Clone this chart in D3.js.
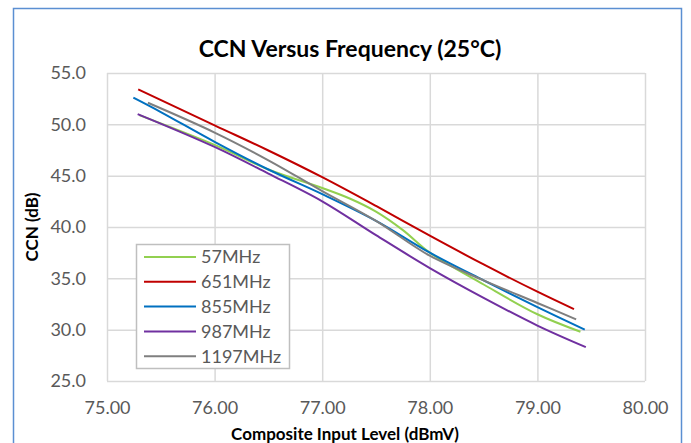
<!DOCTYPE html>
<html>
<head>
<meta charset="utf-8">
<script src="https://cdn.jsdelivr.net/npm/d3@7"></script>
<style>
  body { margin: 0; background: #fff; }
  text { font-family: Lato, "Open Sans", sans-serif; }
</style>
</head>
<body>
<div id="chart"></div>
<script>
// data
const seriesNames = ["57MHz", "651MHz", "855MHz", "987MHz", "1197MHz"];
const seriesColors = ["#92d050", "#c00000", "#0070c0", "#7030a0", "#7f7f7f"];

const x57 = [75.30, 76.00, 76.50, 77.00, 77.25, 77.50, 77.75, 78.00, 78.50, 79.00, 79.40];
const y57 = [50.9, 48.0, 45.6, 43.8, 42.8, 41.5, 39.7, 37.5, 34.4, 31.5, 29.8];

const x651 = [75.29, 76.00, 76.50, 77.00, 77.50, 78.00, 78.50, 79.00, 79.34];
const y651 = [53.4, 49.9, 47.45, 44.85, 42.05, 39.15, 36.35, 33.7, 32.0];

const x855 = [75.245, 75.50, 76.00, 76.50, 77.00, 77.50, 78.00, 78.50, 79.00, 79.44];
const y855 = [52.6, 51.2, 48.3, 45.6, 43.2, 40.6, 37.5, 34.8, 32.2, 30.0];

const x987 = [75.285, 76.00, 76.50, 77.00, 77.50, 78.00, 78.50, 79.00, 79.45];
const y987 = [51.0, 47.8, 45.2, 42.5, 39.2, 36.0, 33.1, 30.4, 28.3];

const x1197 = [75.38, 76.00, 76.50, 77.00, 77.50, 78.00, 78.50, 79.00, 79.36];
const y1197 = [52.1, 49.2, 46.5, 43.5, 40.6, 37.2, 34.8, 32.6, 31.0];

const xTicks = [75, 76, 77, 78, 79, 80];
const yTicks = [25, 30, 35, 40, 45, 50, 55];

const seriesX = [x57, x651, x855, x987, x1197];
const seriesY = [y57, y651, y855, y987, y1197];

const W = 691, H = 443;
const margin = { top: 73, left: 107, right: 46, bottom: 62 };
const width = W - margin.left - margin.right,
      height = H - margin.top - margin.bottom;

const svg = d3.select("#chart").append("svg")
  .attr("width", W)
  .attr("height", H);

// outer chart frame
svg.append("rect")
  .attr("x", 13.5).attr("y", 8.5)
  .attr("width", 668).attr("height", 460)
  .attr("fill", "#fff")
  .attr("stroke", "#5b8fd2")
  .attr("stroke-width", 1.5);

svg.append("text")
  .attr("x", 350).attr("y", 57)
  .attr("text-anchor", "middle")
  .style("font-size", "23px").style("font-weight", "bold")
  .attr("fill", "#000")
  .text("CCN Versus Frequency (25°C)");

const g = svg.append("g")
  .attr("transform", `translate(${margin.left},${margin.top})`);

const xScale = d3.scaleLinear().domain([75, 80]).range([0, width]);
const yScale = d3.scaleLinear().domain([25, 55]).range([height, 0]);

// gridlines
g.append("g")
  .call(d3.axisBottom(xScale).tickValues(xTicks).tickSize(-height).tickFormat(""))
  .attr("transform", `translate(0,${height})`)
  .call(a => a.select(".domain").remove())
  .selectAll("line").attr("stroke", "#d9d9d9").attr("stroke-width", 1.5);

g.append("g")
  .call(d3.axisLeft(yScale).tickValues(yTicks).tickSize(-width).tickFormat(""))
  .call(a => a.select(".domain").remove())
  .selectAll("line").attr("stroke", "#d9d9d9").attr("stroke-width", 1.5);

// tick labels
g.append("g")
  .attr("transform", `translate(0,${height})`)
  .call(d3.axisBottom(xScale).tickValues(xTicks).tickSize(0).tickPadding(20).tickFormat(d3.format(".2f")))
  .call(a => a.select(".domain").remove())
  .selectAll("text")
  .style("font-size", "18px").attr("fill", "#595959")
  .style("font-family", "Lato, sans-serif");

g.append("g")
  .call(d3.axisLeft(yScale).tickValues(yTicks).tickSize(0).tickPadding(21).tickFormat(d3.format(".1f")))
  .call(a => a.select(".domain").remove())
  .selectAll("text")
  .style("font-size", "18px").attr("fill", "#595959")
  .style("font-family", "Lato, sans-serif");

// axis titles
svg.append("text")
  .attr("x", 345).attr("y", 440)
  .attr("text-anchor", "middle")
  .style("font-size", "17px").style("font-weight", "bold")
  .text("Composite Input Level (dBmV)");

svg.append("text")
  .attr("transform", `translate(38,${margin.top + height / 2}) rotate(-90)`)
  .attr("text-anchor", "middle")
  .style("font-size", "17px").style("font-weight", "bold")
  .text("CCN (dB)");

// series lines
const line = d3.line()
  .x(d => xScale(d[0]))
  .y(d => yScale(d[1]))
  .curve(d3.curveCatmullRom);

seriesNames.forEach((name, i) => {
  const pts = seriesX[i].map((x, j) => [x, seriesY[i][j]]);
  g.append("path")
    .datum(pts)
    .attr("fill", "none")
    .attr("stroke", seriesColors[i])
    .attr("stroke-width", 2)
    .attr("d", line);
});

// legend
const legend = svg.append("g").attr("transform", "translate(136,244)");
legend.append("rect")
  .attr("x", 0.5).attr("y", 0.5)
  .attr("width", 153).attr("height", 124)
  .attr("fill", "#fff")
  .attr("stroke", "#bfbfbf")
  .attr("stroke-width", 1.5);

seriesNames.forEach((name, i) => {
  const cy = 13 + i * 24.8;
  legend.append("line")
    .attr("x1", 8).attr("x2", 60)
    .attr("y1", cy).attr("y2", cy)
    .attr("stroke", seriesColors[i])
    .attr("stroke-width", 2);
  legend.append("text")
    .attr("x", 65).attr("y", cy)
    .attr("dy", "0.35em")
    .style("font-size", "18px")
    .attr("fill", "#595959")
    .text(name);
});
</script>
</body>
</html>
